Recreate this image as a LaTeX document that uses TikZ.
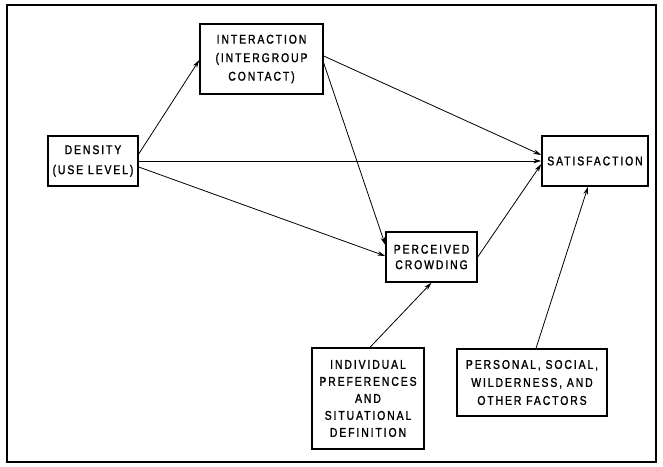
\documentclass[tikz,border=0pt]{standalone}
\usepackage{fontspec}
\setmainfont{Liberation Sans}[FakeStretch=0.82,LetterSpace=15,FakeBold=1.5]
\usetikzlibrary{arrows.meta}
\begin{document}
\begin{tikzpicture}[x=1pt,y=-1pt,
  box/.style={draw,line width=1.4pt,rectangle,inner sep=0pt,align=center,
    font=\fontsize{12.7}{18.5}\selectfont},
  conn/.style={line width=0.8pt,-{Stealth[length=8pt,width=4.5pt]}}]
\useasboundingbox (0,0) rectangle (663,466);
\draw[line width=2pt] (7,5) rectangle (656,462);
\node[box,minimum width=123pt,minimum height=70pt] (inter) at (261.5,59) {INTERACTION\\(INTERGROUP\\CONTACT)};
\node[box,minimum width=90pt,minimum height=50pt,font=\fontsize{12.7}{20}\selectfont] (dens) at (93,161) {DENSITY\\(USE LEVEL)};
\node[box,minimum width=106pt,minimum height=50pt] (sat) at (595,161) {SATISFACTION};
\node[box,minimum width=91pt,minimum height=50pt,font=\fontsize{12.7}{15.5}\selectfont] (crowd) at (431.5,257) {PERCEIVED\\CROWDING};
\node[box,minimum width=112pt,minimum height=101pt,font=\fontsize{12.7}{17}\selectfont] (indiv) at (368,398.5) {INDIVIDUAL\\PREFERENCES\\AND\\SITUATIONAL\\DEFINITION};
\node[box,minimum width=150pt,minimum height=67pt,font=\fontsize{12.7}{18}\selectfont] (pers) at (532,382.5) {PERSONAL, SOCIAL,\\WILDERNESS, AND\\OTHER FACTORS};
\draw[conn] ([yshift=7pt]dens.east) -- ([yshift=-1pt]inter.west);
\draw[conn] (dens.east) -- (sat.west);
\draw[conn] ([yshift=-6pt]dens.east) -- ([yshift=1pt]crowd.west);
\draw[conn] ([yshift=3pt]inter.east) -- ([yshift=6pt]sat.west);
\draw[conn] ([yshift=-4pt]inter.east) -- ([yshift=12pt]crowd.west);
\draw[conn] (crowd.east) -- ([yshift=-3pt]sat.west);
\draw[conn] ([xshift=2pt]indiv.north) -- (crowd.south);
\draw[conn] ([xshift=4pt]pers.north) -- ([xshift=-7pt]sat.south);
\end{tikzpicture}
\end{document}
